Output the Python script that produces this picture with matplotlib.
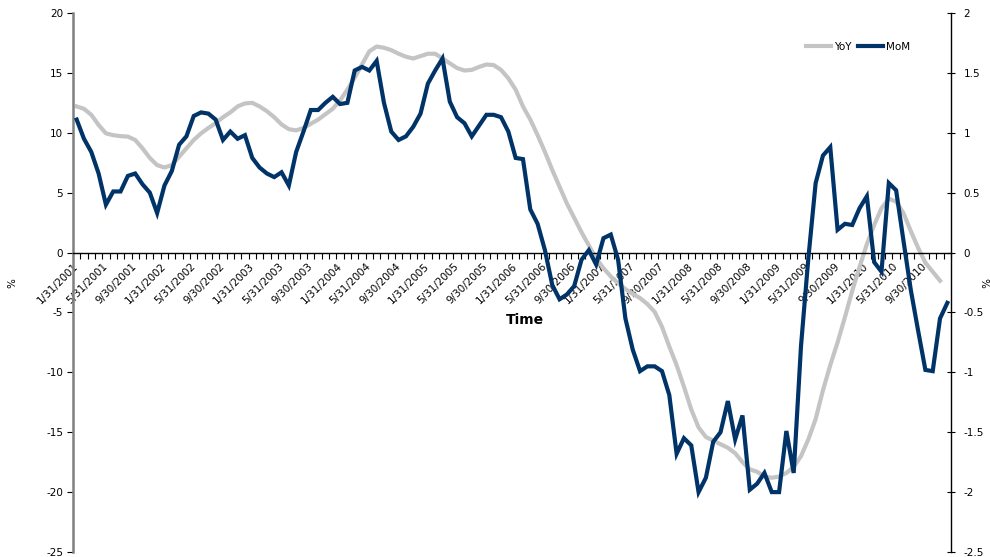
import numpy as np
import pandas as pd
import matplotlib
matplotlib.use("Agg")
import matplotlib.pyplot as plt
from matplotlib.ticker import FuncFormatter
from matplotlib.lines import Line2D

plt.rcParams["font.family"] = ["DejaVu Sans"]
plt.rcParams["axes.unicode_minus"] = False

# monthly categories, Jan 2001 - Dec 2010
months = pd.date_range("2001-01-31", periods=120, freq="ME")
month_labels = [f"{d.month}/{d.day}/{d.year}" for d in months]

# year-over-year change, % (left axis); last month not yet available
yoy = [
    12.2, 12.0, 11.5, 10.65, 9.95, 9.8, 9.72, 9.68, 9.4, 8.7, 7.9, 7.3,
    7.1, 7.3, 8.0, 8.7, 9.4, 9.95, 10.4, 10.8, 11.3, 11.7, 12.2, 12.45,
    12.5, 12.2, 11.8, 11.3, 10.7, 10.3, 10.2, 10.4, 10.75, 11.1, 11.55, 12.0,
    12.7, 13.6, 14.6, 15.7, 16.8, 17.2, 17.1, 16.9, 16.6, 16.35, 16.2, 16.4,
    16.6, 16.6, 16.2, 15.8, 15.4, 15.2, 15.25, 15.5, 15.7, 15.65, 15.25, 14.55,
    13.6, 12.2, 11.1, 9.8, 8.4, 6.9, 5.5, 4.1, 2.9, 1.7, 0.6, -0.5,
    -1.3, -2.0, -2.55, -3.05, -3.45, -3.8, -4.3, -4.95, -6.2, -7.85, -9.4, -11.2,
    -13.1, -14.6, -15.4, -15.7, -16.0, -16.3, -16.75, -17.5, -18.1, -18.3, -18.7, -18.8,
    -18.7, -18.4, -17.9, -17.0, -15.6, -13.9, -11.5, -9.4, -7.5, -5.4, -3.2, -1.2,
    0.7, 2.3, 3.7, 4.5, 4.25, 3.3, 1.8, 0.4, -0.85, -1.6, -2.35, np.nan,
]

# month-over-month change, % (right axis)
mom = [
    1.11, 0.95, 0.84, 0.66, 0.40, 0.51, 0.51, 0.64, 0.66, 0.57, 0.50, 0.33,
    0.56, 0.68, 0.90, 0.97, 1.14, 1.17, 1.16, 1.11, 0.94, 1.01, 0.95, 0.98,
    0.79, 0.71, 0.66, 0.63, 0.67, 0.56, 0.84, 1.01, 1.19, 1.19, 1.25, 1.30,
    1.24, 1.25, 1.52, 1.55, 1.52, 1.60, 1.25, 1.01, 0.94, 0.97, 1.05, 1.16,
    1.41, 1.52, 1.62, 1.26, 1.13, 1.08, 0.97, 1.06, 1.15, 1.15, 1.13, 1.01,
    0.79, 0.78, 0.36, 0.24, 0.02, -0.27, -0.39, -0.35, -0.28, -0.06, 0.02, -0.10,
    0.12, 0.15, -0.06, -0.55, -0.81, -0.99, -0.95, -0.95, -0.99, -1.19, -1.68, -1.55,
    -1.61, -2.00, -1.88, -1.58, -1.50, -1.24, -1.56, -1.36, -1.98, -1.93, -1.84, -2.00,
    -2.00, -1.49, -1.84, -0.78, -0.05, 0.58, 0.81, 0.88, 0.19, 0.24, 0.23, 0.37,
    0.47, -0.08, -0.16, 0.58, 0.52, 0.10, -0.31, -0.65, -0.98, -0.99, -0.55, -0.42,
]

GRAY = "#c4c4c4"
NAVY = "#003468"
FS = 7.5

x = np.arange(len(months))

fig = plt.figure(figsize=(9.9, 5.57), dpi=100)
ax = fig.add_axes([73 / 990, 5 / 557, 878 / 990, 539 / 557])
ax.plot(x, yoy, color=GRAY, lw=3.0, solid_joinstyle="round")

ax2 = ax.twinx()
ax2.plot(x, mom, color=NAVY, lw=3.0, solid_joinstyle="miter")

ax.set_xlim(-0.5, len(months) - 0.5)
ax.set_ylim(-25, 20)
ax2.set_ylim(-2.5, 2)
ax.set_yticks(np.arange(-25, 21, 5))
ax2.set_yticks(np.arange(-2.5, 2.01, 0.5))
fmt = FuncFormatter(lambda v, _: f"{v:g}")
ax.yaxis.set_major_formatter(fmt)
ax2.yaxis.set_major_formatter(fmt)

# category axis crosses at zero, labels every 4 months
ax.spines["bottom"].set_position(("data", 0))
ax.spines["bottom"].set_linewidth(1.0)
ax.spines["top"].set_visible(False)
ax.spines["right"].set_visible(False)
ax.spines["left"].set_color("#808080")
ax.spines["left"].set_linewidth(1.8)
for s in ["top", "left", "bottom"]:
    ax2.spines[s].set_visible(False)
ax2.spines["right"].set_linewidth(1.0)

ax.set_xticks(x[::4])
ax.set_xticklabels(month_labels[::4], rotation=45, ha="right", va="center",
                   rotation_mode="anchor", fontsize=FS)
ax.set_xticks(np.arange(-0.5, len(months), 1), minor=True)
ax.tick_params(axis="x", which="major", length=0, pad=9)
ax.tick_params(axis="x", which="minor", length=4, width=0.8, direction="out")
ax.tick_params(axis="y", length=4, width=0.8, direction="out", labelsize=FS, pad=3)
ax2.tick_params(axis="y", length=6, width=0.8, direction="inout", labelsize=FS, pad=6)

fig.text(12 / 990, 1 - 283 / 557, "%", rotation=90, ha="center", va="center", fontsize=FS)
fig.text(988 / 990, 1 - 283 / 557, "%", rotation=270, ha="right", va="center", fontsize=FS)
fig.text(525 / 990, 1 - 320 / 557, "Time", ha="center", va="center",
         fontsize=10, fontweight="bold")

handles = [Line2D([], [], color=GRAY, lw=3.0), Line2D([], [], color=NAVY, lw=3.0)]
ax2.legend(handles, ["YoY", "MoM"], loc="center left", ncol=2, frameon=False,
           bbox_to_anchor=(806 / 990, 1 - 47 / 557), bbox_transform=fig.transFigure,
           borderaxespad=0, borderpad=0, handlelength=2.4, handletextpad=0.3,
           columnspacing=0.6, fontsize=FS)

fig.savefig("out.png", dpi=100)
